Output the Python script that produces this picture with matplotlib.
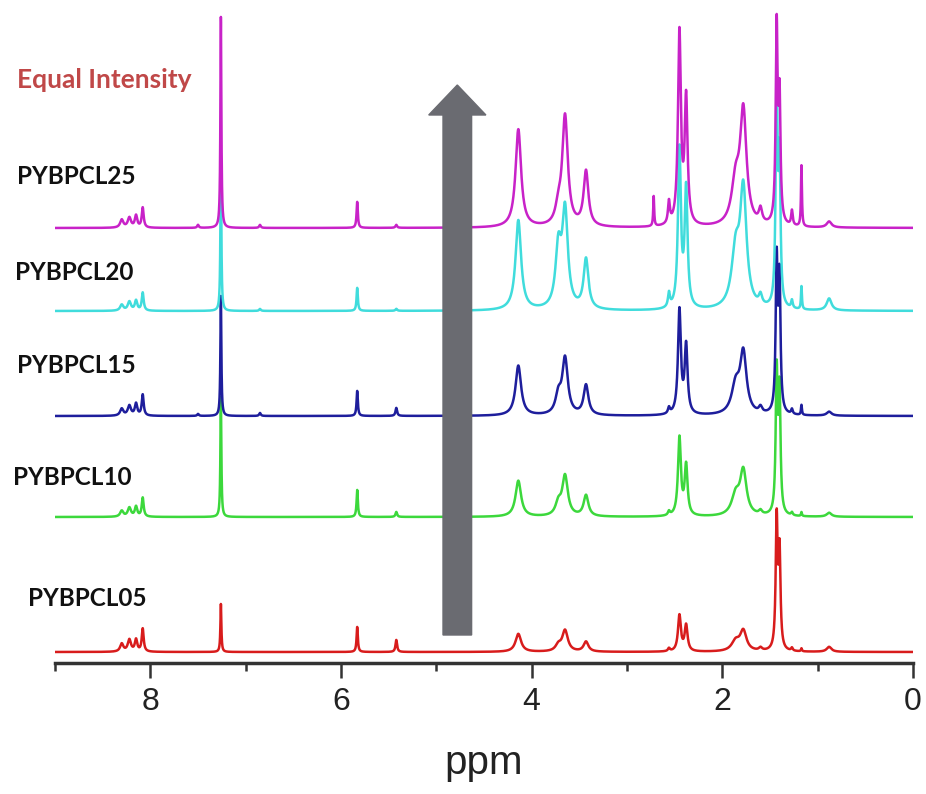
import numpy as np
import matplotlib
matplotlib.use("Agg")
import matplotlib.pyplot as plt
from matplotlib.patches import FancyArrow

# ---------------- data ----------------
series_names = ["PYBPCL05", "PYBPCL10", "PYBPCL15", "PYBPCL20", "PYBPCL25"]

# shared peak positions (ppm) and half-widths (ppm)
peak_ppm = [8.30, 8.22, 8.15, 8.08, 7.50, 7.26, 6.85, 5.83, 5.42, 4.14, 3.72, 3.65,
            3.43, 2.72, 2.56, 2.45, 2.38, 1.86, 1.78, 1.60, 1.43, 1.40, 1.27, 1.17, 0.88]
peak_hwhm = [0.02, 0.02, 0.015, 0.012, 0.01, 0.006, 0.01, 0.008, 0.01, 0.035, 0.035, 0.035,
             0.03, 0.006, 0.012, 0.018, 0.018, 0.05, 0.04, 0.02, 0.012, 0.012, 0.01, 0.006, 0.03]

# peak heights for each sample (arbitrary units, "equal intensity" scaling)
h_pybpcl05 = [8, 12, 12, 23, 0, 48, 0, 25, 12, 18, 6, 21,
              10, 0, 3, 36, 26, 10, 20, 3, 130, 95, 3, 3, 5]
h_pybpcl10 = [6, 9, 10, 19, 0, 120, 0, 27, 5, 36, 12, 40,
              21, 0, 4, 78, 50, 20, 44, 4, 140, 120, 3, 4, 4]
h_pybpcl15 = [7, 10, 12, 21, 2, 120, 3, 25, 8, 50, 18, 56,
              30, 0, 6, 104, 68, 28, 60, 6, 150, 130, 5, 10, 4]
h_pybpcl20 = [6, 9, 10, 18, 0, 151, 2, 23, 2, 90, 58, 96,
              50, 0, 14, 158, 118, 55, 115, 10, 220, 140, 8, 23, 12]
h_pybpcl25 = [8, 10, 12, 20, 3, 211, 3, 26, 3, 98, 15, 110,
              55, 30, 22, 192, 125, 42, 112, 14, 195, 120, 15, 61, 6]

heights = [h_pybpcl05, h_pybpcl10, h_pybpcl15, h_pybpcl20, h_pybpcl25]
colors = ["#d81c1c", "#3cd83c", "#1e1e9c", "#40dcdc", "#c822c8"]
offsets = [11, 146, 247, 352, 435]

x_ticks = [8, 6, 4, 2, 0]
x_minor = [9, 7, 5, 3, 1]

# ---------------- figure ----------------
W, H = 926, 794
fig = plt.figure(figsize=(W / 100, H / 100), dpi=100)
ax = fig.add_axes([55 / W, (H - 663) / H, 858 / W, 653 / H])

ppm = np.linspace(9.0, 0.0, 9001)
pos = np.array(peak_ppm)[:, None]
gam = np.array(peak_hwhm)[:, None]
shape = 1.0 / (1.0 + ((ppm[None, :] - pos) / gam) ** 2)

for i, (hts, c, off) in enumerate(zip(heights, colors, offsets)):
    y = off + (np.array(hts)[:, None] * shape).sum(axis=0)
    ax.plot(ppm, y, color=c, lw=1.8, zorder=2 + i, solid_joinstyle="round")

ax.set_xlim(9, 0)
ax.set_ylim(0, 653)
for s in ["left", "right", "top"]:
    ax.spines[s].set_visible(False)
ax.spines["bottom"].set_linewidth(2.5)
ax.spines["bottom"].set_color("#333333")
ax.set_yticks([])
ax.set_xticks(x_ticks)
ax.set_xticks(x_minor, minor=True)
ax.set_xticklabels([str(t) for t in x_ticks])
ax.tick_params(axis="x", which="major", direction="out", length=11, width=1.8,
               color="#333333", labelsize=23, pad=6)
ax.tick_params(axis="x", which="minor", direction="out", length=6, width=1.8,
               color="#333333")
for lab in ax.get_xticklabels():
    lab.set_fontfamily("Liberation Sans")
    lab.set_color("#222222")
ax.set_xlabel("ppm", fontsize=29, family="Liberation Sans", color="#222222", labelpad=20)

# arrow
ax.add_patch(FancyArrow(4.78, 28, 0, 550, width=0.30, head_width=0.60,
                        head_length=30, length_includes_head=True,
                        color="#6a6b71", zorder=10))

# labels (figure-pixel positions)
def ftxt(x, y, s, color="#111111", size=17.5):
    fig.text(x / W, 1 - y / H, s, ha="left", va="center", fontsize=size,
             fontweight="bold", family="Lato", color=color)

ftxt(17, 80, "Equal Intensity", color="#c04848", size=19)
label_y = [598, 477, 365, 272, 177]
label_x = [28, 13, 17, 15, 17]
for name, lx, ly in zip(series_names, label_x, label_y):
    ftxt(lx, ly, name)

fig.savefig("out.png", dpi=100)
